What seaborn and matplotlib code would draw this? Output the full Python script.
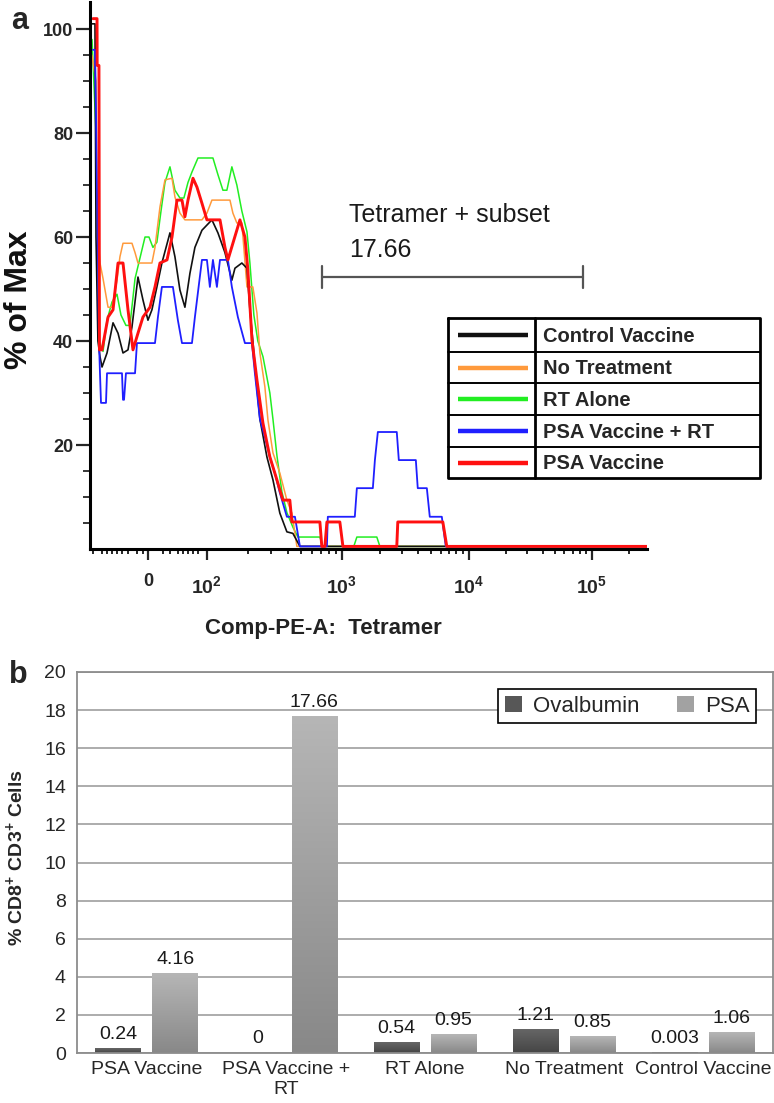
import numpy as np
import pandas as pd
import matplotlib
matplotlib.use("Agg")
import matplotlib.pyplot as plt
import seaborn as sns
from matplotlib.colors import LinearSegmentedColormap

# ------------------------------------------------------------------
# Panel a : tetramer histograms (x = display channel in decade units
# of the biexponential axis, y = % of max)
# ------------------------------------------------------------------
series_names = ["Control Vaccine", "No Treatment", "RT Alone", "PSA Vaccine + RT", "PSA Vaccine"]
series_colors = ["#111111", "#ff9a3c", "#22ee22", "#1f1fff", "#ff1010"]
series_widths = [1.2, 1.1, 1.1, 1.3, 2.1]
draw_order = ["RT Alone", "No Treatment", "Control Vaccine", "PSA Vaccine + RT", "PSA Vaccine"]

control_x = [1.100, 1.125, 1.133, 1.148, 1.164, 1.180, 1.219, 1.266, 1.305, 1.344, 1.383, 1.414,
             1.461, 1.500, 1.539, 1.570, 1.609, 1.648, 1.711, 1.750, 1.789, 1.828, 1.867, 1.906,
             1.961, 2.039, 2.086, 2.141, 2.195, 2.219, 2.273, 2.313, 2.336, 2.359, 2.383, 2.414,
             2.469, 2.516, 2.570, 2.625, 2.672, 2.727, 5.440]
control_y = [101, 101, 60, 40, 37, 35, 37.7, 43.5, 41.5, 37.7, 38.3, 42.7,
             52.3, 47.9, 44, 46, 50.4, 55, 60.8, 56.2, 49.8, 46.5, 53, 58,
             61.3, 63.3, 60.8, 57, 51.7, 54, 55, 54, 46, 40, 33, 25,
             17.7, 13.3, 6.9, 3.3, 3.0, 0.5, 0.5]

notreat_x = [1.100, 1.133, 1.141, 1.148, 1.164, 1.188, 1.227, 1.258, 1.297, 1.320, 1.344, 1.414,
             1.438, 1.461, 1.570, 1.594, 1.633, 1.672, 1.727, 1.750, 1.789, 1.828, 1.961, 2.000,
             2.039, 2.180, 2.203, 2.234, 2.273, 2.313, 2.359, 2.391, 2.414, 2.453, 2.477, 2.516,
             2.570, 2.625, 2.664, 2.688, 2.703, 5.440]
notreat_y = [95, 90, 65, 60, 55, 52, 46.5, 46.5, 51.7, 56.2, 58.8, 58.8,
             57, 55, 55, 58, 65.8, 71, 71.3, 67.7, 64.6, 63.3, 63.3, 64.6,
             67.1, 67.1, 64.6, 62.7, 62.7, 50.4, 50.4, 45.4, 37.7, 31.2, 24.8, 18.5,
             14.6, 9.4, 6.9, 3.0, 0.5, 0.5]

rt_x = [1.102, 1.133, 1.156, 1.188, 1.219, 1.258, 1.297, 1.328, 1.367, 1.398, 1.438, 1.477,
        1.516, 1.547, 1.578, 1.609, 1.641, 1.672, 1.711, 1.750, 1.789, 1.820, 1.852, 1.883,
        1.930, 2.047, 2.086, 2.125, 2.156, 2.195, 2.234, 2.273, 2.313, 2.336, 2.367, 2.398,
        2.438, 2.469, 2.492, 2.516, 2.547, 2.586, 2.625, 2.672, 2.711, 2.883, 2.906, 3.148,
        3.172, 3.328, 3.352, 5.440]
rt_y = [98, 80, 40, 38, 44, 47.5, 49, 45, 43, 43, 52, 56,
        60, 60, 58, 59, 65, 70.5, 73.5, 69, 67.5, 67.5, 70.5, 72.5,
        75.2, 75.2, 72, 69, 69, 73.5, 70, 65, 61, 55, 45, 40,
        37, 33, 30, 25, 18, 11, 7, 4.2, 2.3, 2.3, 0.5, 0.5,
        2.3, 2.3, 0.5, 0.5]

psart_x = [1.109, 1.125, 1.133, 1.156, 1.164, 1.172, 1.211, 1.219, 1.336, 1.344, 1.352, 1.367,
           1.383, 1.438, 1.453, 1.594, 1.617, 1.648, 1.734, 1.773, 1.805, 1.883, 1.906, 1.961,
           2.000, 2.023, 2.047, 2.078, 2.102, 2.164, 2.195, 2.242, 2.297, 2.352, 2.375, 2.414,
           2.453, 2.492, 2.531, 2.570, 2.625, 2.688, 2.727, 2.938, 2.945, 3.156, 3.172, 3.297,
           3.313, 3.336, 3.484, 3.500, 3.633, 3.648, 3.719, 3.742, 3.836, 3.867, 5.440]
psart_y = [96, 96, 84, 40, 33.8, 28.1, 28.1, 33.8, 33.8, 28.7, 28.7, 33.8,
           33.8, 33.8, 39.6, 39.6, 44.6, 50.4, 50.4, 44, 39.6, 39.6, 44.6, 55.6,
           55.6, 50.4, 55.6, 50.4, 55.6, 55.6, 50.4, 44.6, 39.6, 39.6, 33.8, 25,
           21.5, 17.7, 14.6, 10.8, 6.2, 6.2, 0.5, 0.5, 6.2, 6.2, 11.7, 11.7,
           17.1, 22.5, 22.5, 17.1, 17.1, 11.7, 11.7, 6.2, 6.2, 0.5, 0.5]

psa_x = [1.109, 1.141, 1.142, 1.156, 1.160, 1.180, 1.227, 1.266, 1.305, 1.344, 1.383, 1.422,
         1.461, 1.500, 1.555, 1.594, 1.633, 1.688, 1.727, 1.766, 1.805, 1.828, 1.852, 1.891,
         1.922, 1.961, 2.000, 2.102, 2.141, 2.164, 2.203, 2.258, 2.297, 2.320, 2.352, 2.391,
         2.438, 2.492, 2.547, 2.594, 2.648, 2.664, 2.883, 2.898, 2.922, 2.938, 3.039, 3.063,
         3.484, 3.492, 3.844, 3.875, 5.440]
psa_y = [102, 102, 93, 93, 38.3, 38.3, 44.6, 46, 55, 55, 46, 38.3,
         41.5, 44.6, 46.5, 50.4, 55, 55.6, 60, 67.1, 67.1, 63.9, 67.1, 71.3,
         69.6, 66.5, 63.3, 63.3, 58, 55.6, 58.8, 63.3, 60, 53.7, 40.2, 32.5,
         24.2, 17.7, 13.3, 9.4, 9.4, 5.2, 5.2, 0.5, 0.5, 5.2, 5.2, 0.5,
         0.5, 5.2, 5.2, 0.5, 0.5]

series_x = [control_x, notreat_x, rt_x, psart_x, psa_x]
series_y = [control_y, notreat_y, rt_y, psart_y, psa_y]

# axis decades (display position of 10^2 ... 10^5) and the "0" position
decade_exponents = [2, 3, 4, 5]
decade_positions = [2.000, 3.055, 4.047, 5.008]
zero_position = 1.54

# tetramer-positive gate
gate_range = [2.898, 4.938]
gate_level = 52.3
gate_title = "Tetramer + subset"
gate_value = "17.66"

# ------------------------------------------------------------------
# Panel b : bar chart
# ------------------------------------------------------------------
categories = ["PSA Vaccine", "PSA Vaccine +\nRT", "RT Alone", "No Treatment", "Control Vaccine"]
antigens = ["Ovalbumin", "PSA"]
ovalbumin_vals = [0.24, 0, 0.54, 1.21, 0.003]
psa_vals = [4.16, 17.66, 0.95, 0.85, 1.06]
bar_colors = {"Ovalbumin": "#575757", "PSA": "#a2a2a2"}
bar_grad = {"Ovalbumin": ("#454545", "#666666"), "PSA": ("#888888", "#b6b6b6")}

# ------------------------------------------------------------------
sns.set_style("white")
plt.rcParams["font.family"] = ["Liberation Sans", "DejaVu Sans"]
plt.rcParams["mathtext.fontset"] = "custom"
plt.rcParams["mathtext.rm"] = "Liberation Sans"
plt.rcParams["mathtext.bf"] = "Liberation Sans:bold"

W, H = 774, 1103
fig = plt.figure(figsize=(W / 100, H / 100), dpi=100)

def fbox(x0, y0, x1, y1):
    return [x0 / W, 1 - y1 / H, (x1 - x0) / W, (y1 - y0) / H]

# ---------------- panel a ----------------
ax = fig.add_axes(fbox(90, 2, 647, 549))
rows = []
for name, xs, ys in zip(series_names, series_x, series_y):
    rows.append(pd.DataFrame({"channel": xs, "pct": ys, "group": name}))
hist = pd.concat(rows, ignore_index=True)
color_of = dict(zip(series_names, series_colors))
width_of = dict(zip(series_names, series_widths))
for name in draw_order:
    sub = hist[hist["group"] == name]
    sns.lineplot(data=sub, x="channel", y="pct", color=color_of[name], lw=width_of[name],
                 sort=False, estimator=None, ax=ax, legend=False)

ax.set_xlim(1.086, 5.44)
ax.set_ylim(0, 105.2)
ax.set_xlabel("")
ax.set_ylabel("")
for s in ["top", "right"]:
    ax.spines[s].set_visible(False)
for s in ["left", "bottom"]:
    ax.spines[s].set_linewidth(2.2)
    ax.spines[s].set_color("black")

ax.set_yticks([20, 40, 60, 80, 100])
ax.set_yticks(np.arange(5, 105, 5), minor=True)
ax.set_yticklabels(["20", "40", "60", "80", "100"], fontsize=13, fontweight="bold")
ax.tick_params(axis="y", which="major", length=10, width=1.6, pad=2, direction="out", left=True)
ax.tick_params(axis="y", which="minor", length=5, width=1.3, direction="out", left=True)

lin_minor = [1.11, 1.18, 1.22, 1.26, 1.30, 1.34, 1.38, 1.45, 1.50,
             1.66, 1.71, 1.77, 1.81, 1.85, 1.89, 1.93]
log_minor = []
for i in range(len(decade_positions)):
    p0 = decade_positions[i]
    span = (decade_positions[i + 1] - p0) if i + 1 < len(decade_positions) else 0.96
    ks = range(2, 10) if i + 1 < len(decade_positions) else [2]
    for k in ks:
        log_minor.append(p0 + span * np.log10(k))
ax.set_xticks([zero_position] + decade_positions)
ax.set_xticks(lin_minor + log_minor, minor=True)
ax.set_xticklabels([])
ax.tick_params(axis="x", which="major", length=8, width=1.6, direction="out", bottom=True)
ax.tick_params(axis="x", which="minor", length=3.5, width=1.4, direction="out", bottom=True)

tr = ax.get_xaxis_transform()
ax.text(zero_position, -0.044, "0", transform=tr, ha="center", va="top",
        fontsize=13, fontweight="bold")
for e, p in zip(decade_exponents, decade_positions):
    ax.text(p, -0.047, r"$\mathbf{10^{%d}}$" % e, transform=tr, ha="center", va="top",
            fontsize=14)
ax.text(0.5 * (1.086 + 5.44) - 0.35, -0.145, "Comp-PE-A:  Tetramer", transform=tr,
        ha="center", va="center", fontsize=16, fontweight="bold", color="#222222")

# gate
ax.plot(gate_range, [gate_level, gate_level], color="#555555", lw=1.6)
for gx in gate_range:
    ax.plot([gx, gx], [gate_level - 2.1, gate_level + 2.1], color="#555555", lw=1.6)
ax.text(gate_range[0] + 0.21, 64.2, gate_title, ha="left", va="center", fontsize=18, color="#1a1a1a")
ax.text(gate_range[0] + 0.21, 57.5, gate_value, ha="left", va="center", fontsize=18, color="#1a1a1a")

fig.text(19 / W, 1 - 300 / H, "% of Max", rotation=90, ha="center", va="center",
         fontsize=23, fontweight="bold", color="#111111")
fig.text(20 / W, 1 - 21 / H, "a", ha="center", va="center", fontsize=22, fontweight="bold")

# legend table for panel a
axl = fig.add_axes(fbox(448, 318, 760, 478))
axl.set_xlim(0, 312)
axl.set_ylim(160, 0)
axl.axis("off")
row_edges = [0, 34, 65, 97, 129, 160]
for y in row_edges[1:-1]:
    axl.plot([0, 312], [y, y], color="black", lw=1.4, clip_on=False)
axl.plot([0, 312, 312, 0, 0], [0, 0, 160, 160, 0], color="black", lw=2.0, clip_on=False)
axl.plot([87, 87], [0, 160], color="black", lw=2.0, clip_on=False)
for i, name in enumerate(series_names):
    yc = 0.5 * (row_edges[i] + row_edges[i + 1])
    axl.plot([10, 80], [yc, yc], color=color_of[name], lw=3.2, solid_capstyle="butt")
    axl.text(95, yc + 1, name, ha="left", va="center", fontsize=14.5, fontweight="bold")

# ---------------- panel b ----------------
axb = fig.add_axes(fbox(77, 672, 773, 1053))
bars = pd.DataFrame({
    "category": categories * 2,
    "antigen": ["Ovalbumin"] * len(categories) + ["PSA"] * len(categories),
    "value": ovalbumin_vals + psa_vals,
})
sns.barplot(data=bars, x="category", y="value", hue="antigen", order=categories,
             hue_order=antigens, palette=bar_colors, width=0.82, gap=0.2,
             saturation=1, errorbar=None, linewidth=0, ax=axb)

grad = np.linspace(0, 1, 256).reshape(-1, 1)
for cont, name in zip(axb.containers, antigens):
    cmap = LinearSegmentedColormap.from_list(name, list(bar_grad[name]))
    for bar in cont:
        h = bar.get_height()
        if h <= 0:
            continue
        x0 = bar.get_x()
        w = bar.get_width()
        axb.imshow(grad, extent=[x0, x0 + w, 0, h], origin="lower", cmap=cmap,
                   aspect="auto", zorder=bar.get_zorder() + 0.01, interpolation="bilinear")
    axb.bar_label(cont, fmt="{:g}", padding=4, fontsize=14, color="#1a1a1a")

axb.set_xlim(-0.5, 4.5)
axb.set_ylim(0, 20)
axb.set_yticks(np.arange(0, 21, 2))
axb.set_yticklabels([str(v) for v in range(0, 21, 2)], fontsize=14)
axb.tick_params(axis="both", length=0)
axb.tick_params(axis="y", pad=8)
axb.tick_params(axis="x", pad=6, labelsize=14)
axb.set_xlabel("")
axb.set_ylabel("")
axb.yaxis.grid(True, color="#a6a6a6", lw=1.3)
axb.xaxis.grid(False)
axb.set_axisbelow(True)
for s in axb.spines.values():
    s.set_visible(True)
    s.set_color("#8c8c8c")
    s.set_linewidth(1.3)

handles, labels = axb.get_legend_handles_labels()
leg = axb.legend(handles, labels, loc="upper right", bbox_to_anchor=(0.9756, 0.955),
                 borderaxespad=0, ncol=2, frameon=True, fancybox=False, fontsize=16,
                 handlelength=0.75, handleheight=0.75, handletextpad=0.5,
                 columnspacing=1.7, borderpad=0.3)
leg.get_frame().set_edgecolor("black")
leg.get_frame().set_linewidth(1.2)
leg.get_frame().set_facecolor("white")
leg.get_frame().set_alpha(1)

fig.text(16 / W, 1 - 858 / H, r"% CD8$^{\mathbf{+}}$ CD3$^{\mathbf{+}}$ Cells", rotation=90,
         ha="center", va="center", fontsize=14, fontweight="bold")
fig.text(18 / W, 1 - 675 / H, "b", ha="center", va="center", fontsize=22, fontweight="bold")

fig.savefig("out.png", dpi=100)
